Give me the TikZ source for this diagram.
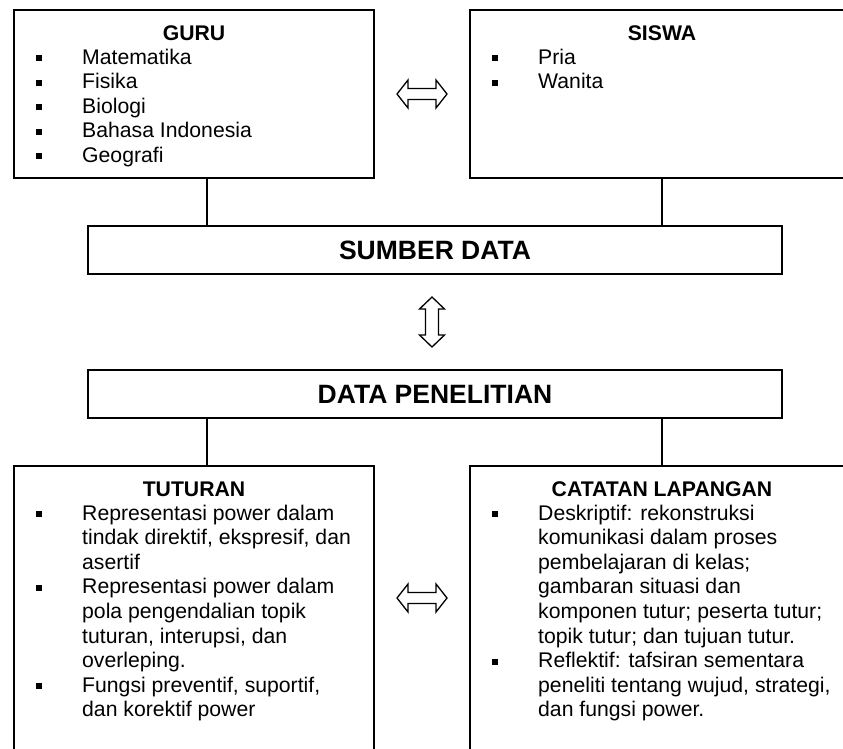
\documentclass[tikz,border=0pt]{standalone}
\usepackage{fontspec}
\setmainfont{Liberation Sans}
\usetikzlibrary{calc}
\newcommand{\bul}{\rule[3pt]{6pt}{6pt}}
\begin{document}
\begin{tikzpicture}[x=1pt,y=-1pt,
    box/.style={draw,line width=2pt,rectangle,inner sep=0pt,outer sep=0pt,anchor=north west},
    ttl/.style={font=\fontsize{21.2}{24.6}\selectfont\bfseries,inner sep=0pt,anchor=base},
    lst/.style={font=\fontsize{21.2}{24.6}\selectfont,inner sep=0pt,anchor=base west},
    big/.style={font=\fontsize{26.5}{30}\selectfont\bfseries},
    conn/.style={line width=1.4pt},
    hollow/.style={draw,line width=1.3pt,fill=white}]
    \clip (0,0) rectangle (843,748);
    % top boxes
    \node[box,minimum width=360pt,minimum height=168pt] (guru) at (14,10) {};
    \node[box,minimum width=384pt,minimum height=168pt] (siswa) at (470,10) {};
    \node[ttl] (guruttl) at ([yshift=-30pt]guru.north) {GURU};
    \node[ttl] (siswattl) at ([yshift=-30pt]siswa.north) {SISWA};
    \node[lst] (gurulst) at ([xshift=22pt,yshift=-54pt]guru.north west)
      {\begin{tabular}[t]{@{}p{46pt}@{}l@{}}
        \bul & Matematika\\
        \bul & Fisika\\
        \bul & Biologi\\
        \bul & Bahasa Indonesia\\
        \bul & Geografi
      \end{tabular}};
    \node[lst] (siswalst) at ([xshift=22pt,yshift=-54pt]siswa.north west)
      {\begin{tabular}[t]{@{}p{46pt}@{}l@{}}
        \bul & Pria\\
        \bul & Wanita
      \end{tabular}};
    % middle boxes
    \node[box,big,minimum width=694pt,minimum height=48pt] (sumber) at (88,226) {SUMBER DATA};
    \node[box,big,minimum width=694pt,minimum height=48pt] (data) at (88,370) {DATA PENELITIAN};
    % bottom boxes
    \node[box,minimum width=360pt,minimum height=330pt] (tutur) at (14,466) {};
    \node[box,minimum width=384pt,minimum height=330pt] (catat) at (470,466) {};
    \node[ttl] (tuturttl) at ([yshift=-30pt]tutur.north) {TUTURAN};
    \node[ttl] (catatttl) at ([yshift=-30pt]catat.north) {CATATAN LAPANGAN};
    \node[lst] (tuturlst) at ([xshift=22pt,yshift=-54pt]tutur.north west)
      {\begin{tabular}[t]{@{}p{46pt}@{}l@{}}
        \bul & Representasi power dalam\\
             & tindak direktif, ekspresif, dan\\
             & asertif\\
        \bul & Representasi power dalam\\
             & pola pengendalian topik\\
             & tuturan, interupsi, dan\\
             & overleping.\\
        \bul & Fungsi preventif, suportif,\\
             & dan korektif power
      \end{tabular}};
    \node[lst] (catatlst) at ([xshift=22pt,yshift=-54pt]catat.north west)
      {\begin{tabular}[t]{@{}p{46pt}@{}l@{}}
        \bul & Deskriptif: rekonstruksi\\
             & komunikasi dalam proses\\
             & pembelajaran di kelas;\\
             & gambaran situasi dan\\
             & komponen tutur; peserta tutur;\\
             & topik tutur; dan tujuan tutur.\\
        \bul & Reflektif: tafsiran sementara\\
             & peneliti tentang wujud, strategi,\\
             & dan fungsi power.
      \end{tabular}};
    % connectors
    \coordinate (g1) at ([xshift=13pt]guru.south);
    \coordinate (t1) at ([xshift=13pt]tutur.north);
    \draw[conn] (g1) -- (g1 |- sumber.north);
    \draw[conn] (siswa.south) -- (siswa.south |- sumber.north);
    \draw[conn] (t1) -- (t1 |- data.south);
    \draw[conn] (catat.north) -- (catat.north |- data.south);
    % hollow double arrows
    \coordinate (arrtop) at ($(guru.east)!.5!(siswa.west)$);
    \coordinate (arrmid) at ($(sumber.south)!.5!(data.north)+(-3,0)$);
    \coordinate (arrbot) at ($(tutur.north east)!.5!(catat.north west)+(0,132)$);
    \draw[hollow,shift={(arrtop)}] (-25,0) -- (-14,-14) -- (-14,-5.5) -- (14,-5.5) -- (14,-14)
      -- (25,0) -- (14,14) -- (14,5.5) -- (-14,5.5) -- (-14,14) -- cycle;
    \draw[hollow,shift={(arrbot)}] (-25,0) -- (-14,-14) -- (-14,-5.5) -- (14,-5.5) -- (14,-14)
      -- (25,0) -- (14,14) -- (14,5.5) -- (-14,5.5) -- (-14,14) -- cycle;
    \draw[hollow,shift={(arrmid)}] (0,-25) -- (12.5,-13) -- (6.5,-13) -- (6.5,13) -- (12.5,13)
      -- (0,25) -- (-12.5,13) -- (-6.5,13) -- (-6.5,-13) -- (-12.5,-13) -- cycle;
\end{tikzpicture}
\end{document}
